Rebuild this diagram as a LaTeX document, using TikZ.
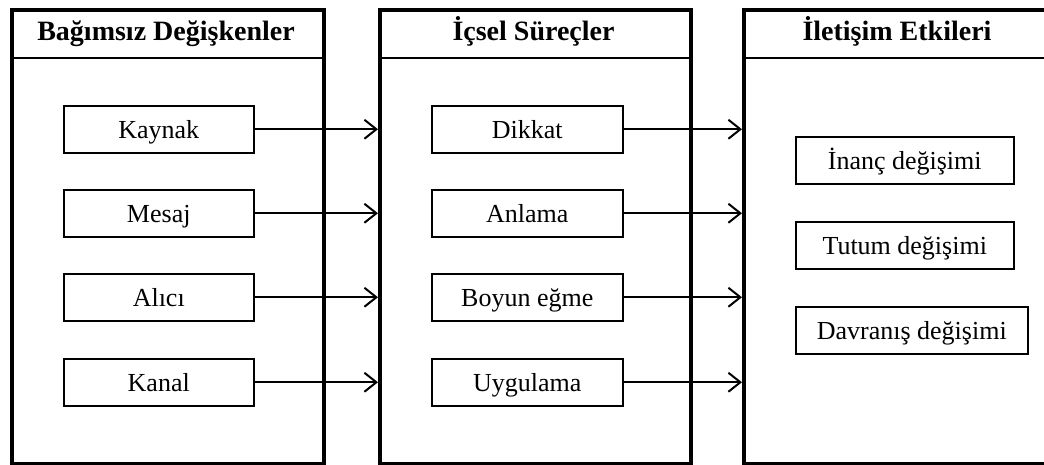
\documentclass[tikz,border=0pt]{standalone}
\usepackage{fontspec}
\setmainfont{Liberation Serif}
\usetikzlibrary{arrows.meta}

\begin{document}
\begin{tikzpicture}[x=1pt,y=-1pt,
  panel/.style={draw, line width=4pt, inner sep=0pt, anchor=north west, minimum height=454pt},
  head/.style={font=\bfseries\fontsize{28}{32}\selectfont, inner sep=0pt,
    text height=21pt, text depth=6pt},
  divider/.style={line width=1.5pt},
  item/.style={draw, line width=1.5pt, anchor=north west, minimum height=47pt,
    inner sep=0pt, text height=22pt, text depth=3pt, font=\fontsize{26}{30}\selectfont},
  conn/.style={line width=2pt, -{Straight Barb[length=12pt,width=19pt,line width=2pt]}}
]
\useasboundingbox (0,0) rectangle (1044,464);
\clip (0,0) rectangle (1044,464);

% three panels; the last one runs past the right edge
\node[panel, minimum width=312pt] (p1) at (10,8) {};
\node[panel, minimum width=311pt] (p2) at (378,8) {};
\node[panel, minimum width=310pt] (p3) at (742,8) {};

% header rows
\foreach \p in {p1,p2,p3}
  \draw[divider] (\p.west |- 0,58) -- (\p.east |- 0,58);
\node[head] (h1) at (166,33) {Bağımsız Değişkenler};
\node[head] (h2) at (533.5,33) {İçsel Süreçler};
\node[head] (h3) at (897,33) {İletişim Etkileri};

% independent variables
\node[item, minimum width=190pt] (a1) at (63,105) {Kaynak};
\node[item, minimum width=190pt] (a2) at (63,189) {Mesaj};
\node[item, minimum width=190pt] (a3) at (63,273) {Alıcı};
\node[item, minimum width=190pt] (a4) at (63,358) {Kanal};

% internal processes
\node[item, minimum width=191pt] (b1) at (431,105) {Dikkat};
\node[item, minimum width=191pt] (b2) at (431,189) {Anlama};
\node[item, minimum width=191pt] (b3) at (431,273) {Boyun eğme};
\node[item, minimum width=191pt] (b4) at (431,358) {Uygulama};

% communication effects
\node[item, minimum width=218pt] (c1) at (795,136) {İnanç değişimi};
\node[item, minimum width=218pt] (c2) at (795,221) {Tutum değişimi};
\node[item, minimum width=232pt] (c3) at (795,306) {Davranış değişimi};

% connectors
\foreach \i in {1,...,4} {
  \draw[conn] (a\i.east) -- (a\i.east -| p2.west);
  \draw[conn] (b\i.east) -- (b\i.east -| p3.west);
}
\end{tikzpicture}
\end{document}
